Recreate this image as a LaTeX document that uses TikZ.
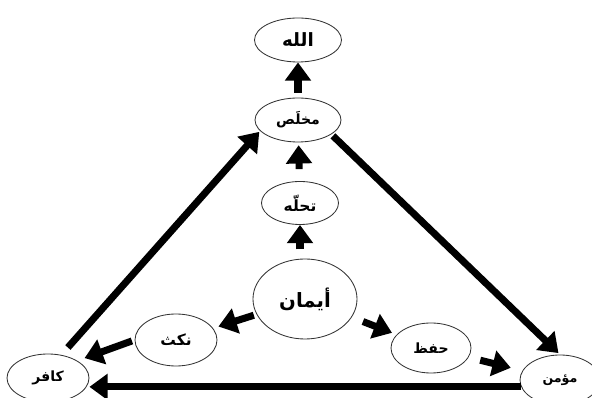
\documentclass[tikz,border=0pt]{standalone}
\usepackage{fontspec}
\usetikzlibrary{shapes.geometric,arrows.meta}
\newfontfamily\arabicfont[Script=Arabic]{DejaVu Sans}
\TeXXeTstate=1
\newcommand{\ar}[1]{{\arabicfont\bfseries\beginR #1\endR}}
\tikzset{
  state/.style={ellipse,draw=black!80,line width=0.6pt,inner sep=0pt},
  bigarrow/.style={line width=5pt,-{Triangle[width=18pt,length=13pt]}},
}
\begin{document}
\begin{tikzpicture}[x=0.025cm,y=-0.025cm]
\useasboundingbox (0,0) rectangle (592,398);
% the ladder
\node[state,minimum width=2.175cm,minimum height=1.1cm] (allah) at (298,40) {\fontsize{13}{15}\selectfont\ar{الله}};
\node[state,minimum width=2.15cm,minimum height=1.1cm] (mukhlas) at (298,120) {\fontsize{10}{12}\selectfont\ar{مخلَص}};
\node[state,minimum width=1.925cm,minimum height=1.075cm] (tahalla) at (300,203) {\fontsize{11}{13}\selectfont\ar{تحلّه}};
\node[state,minimum width=2.6cm,minimum height=2cm] (iman) at (305,299) {\fontsize{14}{16}\selectfont\ar{أيمان}};
% the branches
\node[state,minimum width=2.05cm,minimum height=1.3cm] (nakth) at (176,340) {\fontsize{11}{13}\selectfont\ar{نكث}};
\node[state,minimum width=2cm,minimum height=1.25cm] (hifz) at (431,348) {\fontsize{10}{12}\selectfont\ar{حفظ}};
\node[state,minimum width=2.05cm,minimum height=1.2cm] (kafir) at (48,378) {\fontsize{10}{12}\selectfont\ar{كافر}};
\node[state,minimum width=2cm,minimum height=1.25cm] (mumin) at (560,380) {\fontsize{9}{11}\selectfont\ar{مؤمن}};

\draw[bigarrow,shorten <=3.5pt] (mukhlas) -- (allah);
\draw[bigarrow,shorten <=8.5pt,shorten >=2pt] (tahalla) -- (mukhlas);
\draw[bigarrow,shorten <=6.5pt] (iman.north -| tahalla.south) -- (tahalla.south);
\draw[bigarrow,shorten <=2pt,shorten >=4pt] (iman) -- (nakth);
\draw[bigarrow,shorten <=8.5pt,shorten >=3.5pt] (iman) -- (hifz);
\draw[bigarrow,shorten <=2pt,shorten >=5.5pt] (nakth.west) -- (kafir.north east);
\draw[bigarrow,shorten <=8.5pt,shorten >=8.5pt] (hifz) -- (mumin);

\draw[bigarrow,shorten <=7pt] (kafir.60) -- ([shift={(-8,-4)}]mukhlas.south west);
\draw[bigarrow,shorten >=1.5pt] ([xshift=3]mukhlas.south east) -- (mumin.north);
\draw[bigarrow] (mumin.190) -- (mumin.190 -| kafir.east);
\end{tikzpicture}
\end{document}
